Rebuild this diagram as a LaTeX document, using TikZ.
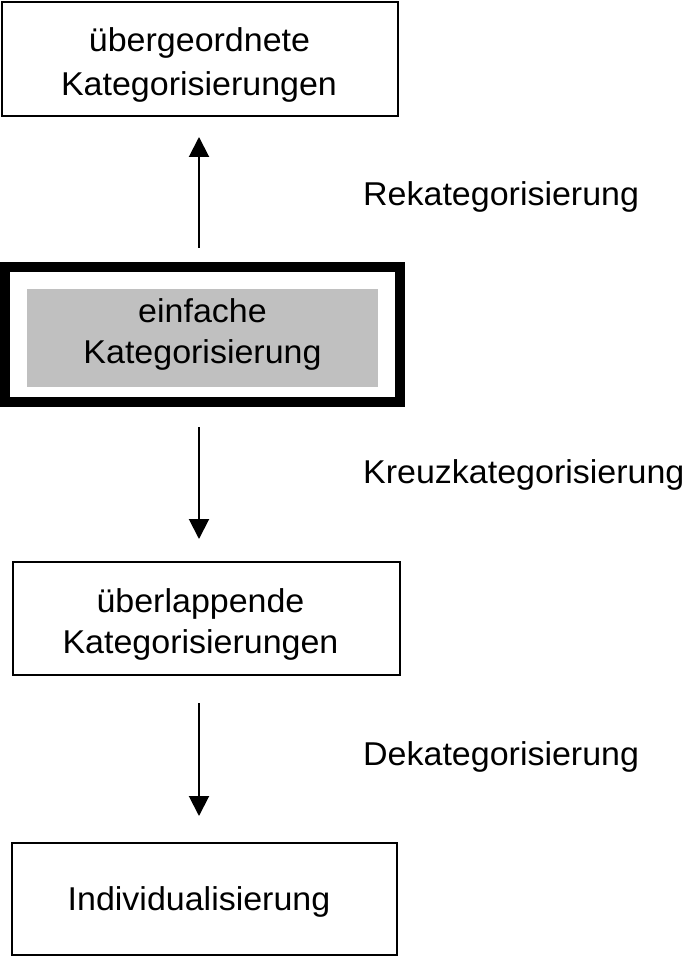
\documentclass[tikz,border=0pt]{standalone}
\usepackage{fontspec}
\setmainfont[FakeStretch=1.03]{Liberation Sans}
\usetikzlibrary{arrows.meta}
\definecolor{grayfill}{RGB}{192,192,192}
\begin{document}
\begin{tikzpicture}[x=1pt,y=-1pt,
  box/.style={draw=black, line width=2pt, fill=white, inner sep=0pt, outer sep=0pt},
  thickbox/.style={draw=black, line width=10pt, fill=white, inner sep=0pt, outer sep=0pt},
  grayrect/.style={fill=grayfill, draw=none, inner sep=0pt, outer sep=0pt},
  txt/.style={font=\fontsize{33}{40}\selectfont, inner sep=0pt, anchor=base, text=black},
  lbl/.style={font=\fontsize{33}{40}\selectfont, inner sep=0pt, anchor=base west, text=black},
  arr/.style={-{Triangle[length=20pt,width=20pt]}, line width=2pt, draw=black}]
\useasboundingbox (0,0) rectangle (685,957);
\coordinate (ax) at (199,0);
% boxes
\node[box, minimum width=396pt, minimum height=114pt] (b1) at (200,59) {};
\node[thickbox, minimum width=395pt, minimum height=135pt] (b2) at (202.5,334.5) {};
\node[grayrect, minimum width=351pt, minimum height=98pt] (g2) at (202.5,338) {};
\node[box, minimum width=387pt, minimum height=113pt] (b3) at (206.5,618.5) {};
\node[box, minimum width=385pt, minimum height=112pt] (b4) at (204.5,899) {};
% texts
\node[txt] (t1a) at (199.5,52) {übergeordnete};
\node[txt] (t1b) at (199,96) {Kategorisierungen};
\node[txt] (t2a) at (202.5,322) {einfache};
\node[txt] (t2b) at (202.5,363) {Kategorisierung};
\node[txt] (t3a) at (200.5,612) {überlappende};
\node[txt] (t3b) at (200.5,653) {Kategorisierungen};
\node[txt] (t4) at (199,910) {Individualisierung};
% labels
\node[lbl] (l1) at (363,206) {Rekategorisierung};
\node[lbl] (l2) at (363,483) {Kreuzkategorisierung};
\node[lbl] (l3) at (363,765) {Dekategorisierung};
% arrows
\draw[arr, shorten <=19pt, shorten >=21pt] (b2.north -| ax) -- (b1.south -| ax);
\draw[arr, shorten <=25pt, shorten >=23pt] (b2.south -| ax) -- (b3.north -| ax);
\draw[arr, shorten <=28pt, shorten >=27pt] (b3.south -| ax) -- (b4.north -| ax);
\end{tikzpicture}
\end{document}
